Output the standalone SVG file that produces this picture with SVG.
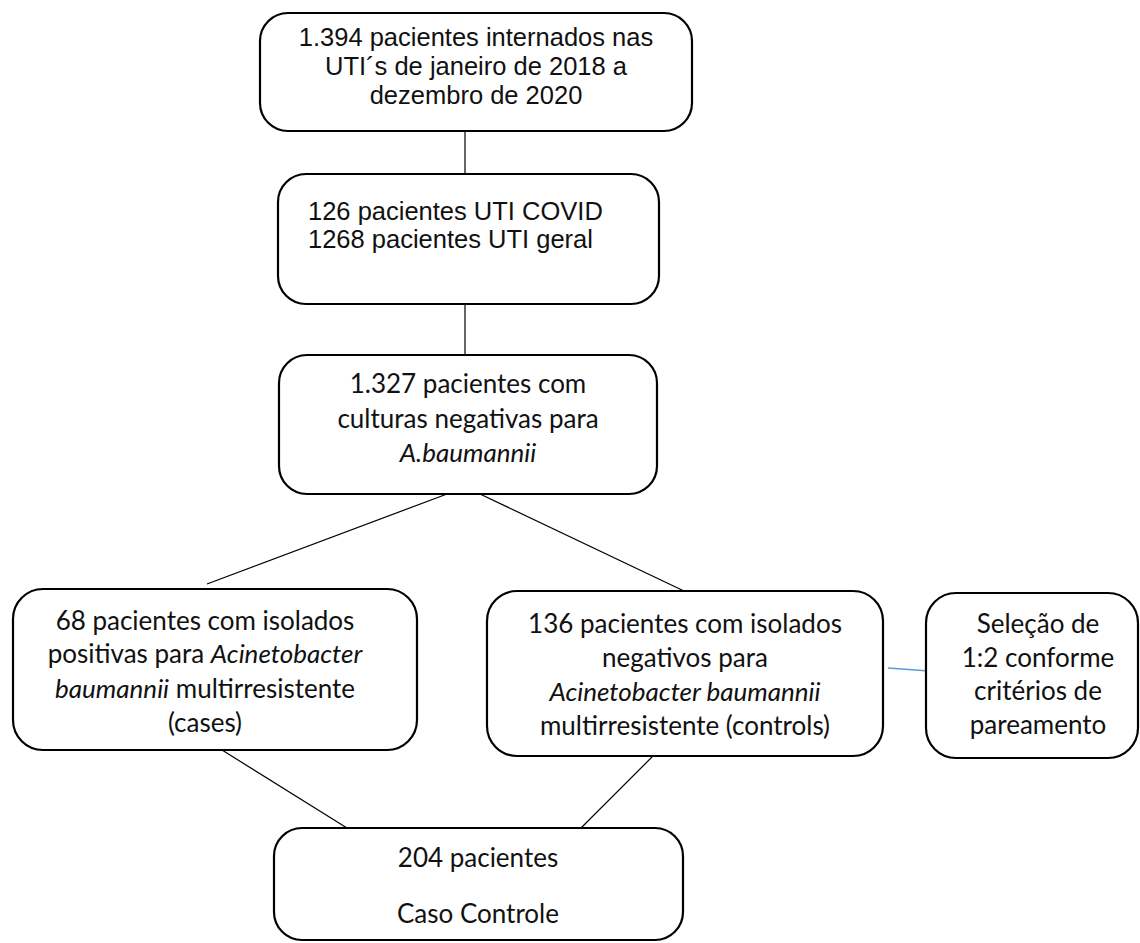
<svg xmlns="http://www.w3.org/2000/svg" width="1140" height="943" viewBox="0 0 1140 943">
<style>
.box{fill:#fff;stroke:#000;stroke-width:2.2}
.ar{font-family:"Liberation Sans",Arial,sans-serif;font-size:25.5px;fill:#111}
.ca{font-family:Lato,"Noto Sans",sans-serif;font-size:26px;fill:#111;text-anchor:middle}
.c{text-anchor:middle}
.it{font-style:italic}
.ln{stroke:#000;stroke-width:1.2;fill:none}
</style>
<rect width="1140" height="943" fill="#fff"/>
<g id="connectors">
<line class="ln" x1="465" y1="131" x2="465" y2="174"/>
<line class="ln" x1="465" y1="304" x2="465" y2="355"/>
<line class="ln" x1="447" y1="494" x2="207" y2="584"/>
<line class="ln" x1="480" y1="494" x2="684" y2="591"/>
<line class="ln" x1="222" y1="750" x2="347" y2="828"/>
<line class="ln" x1="652" y1="757" x2="581" y2="828"/>
<line x1="888" y1="668" x2="929" y2="671" stroke="#5B9BD5" stroke-width="1.3"/>
</g>
<g id="n1">
<rect class="box" x="260" y="13" width="432" height="118" rx="28"/>
<text class="ar c" x="476" y="46">1.394 pacientes internados nas</text>
<text class="ar c" x="476" y="75">UTI´s de janeiro de 2018 a</text>
<text class="ar c" x="476" y="104">dezembro de 2020</text>
</g>
<g id="n2">
<rect class="box" x="278" y="174" width="381" height="130" rx="28"/>
<text class="ar" x="308" y="220">126 pacientes UTI COVID</text>
<text class="ar" x="308" y="248">1268 pacientes UTI geral</text>
</g>
<g id="n3">
<rect class="box" x="279" y="355" width="378" height="139" rx="28"/>
<text class="ca" x="468" y="393">1.327 pacientes com</text>
<text class="ca" x="468" y="428">culturas negativas para</text>
<text class="ca it" x="468" y="462">A.baumannii</text>
</g>
<g id="n4">
<rect class="box" x="13" y="589" width="404" height="161" rx="30"/>
<text class="ca" x="205" y="630">68 pacientes com isolados</text>
<text class="ca" x="205" y="663">positivas para <tspan class="it">Acinetobacter</tspan></text>
<text class="ca" x="205" y="698"><tspan class="it">baumannii</tspan> multirresistente</text>
<text class="ca" x="205" y="732">(cases)</text>
</g>
<g id="n5">
<rect class="box" x="487" y="591" width="396" height="165" rx="30"/>
<text class="ca" x="685" y="633">136 pacientes com isolados</text>
<text class="ca" x="685" y="667">negativos para</text>
<text class="ca it" x="685" y="701">Acinetobacter baumannii</text>
<text class="ca" x="685" y="735">multirresistente (controls)</text>
</g>
<g id="n6">
<rect class="box" x="926" y="593" width="212" height="165" rx="30"/>
<text class="ca" x="1038" y="633">Seleção de</text>
<text class="ca" x="1038" y="667">1:2 conforme</text>
<text class="ca" x="1038" y="700">critérios de</text>
<text class="ca" x="1038" y="734">pareamento</text>
</g>
<g id="n7">
<rect class="box" x="274" y="828" width="409" height="112" rx="28"/>
<text class="ca" x="478" y="867">204 pacientes</text>
<text class="ca" x="478" y="923">Caso Controle</text>
</g>
</svg>
